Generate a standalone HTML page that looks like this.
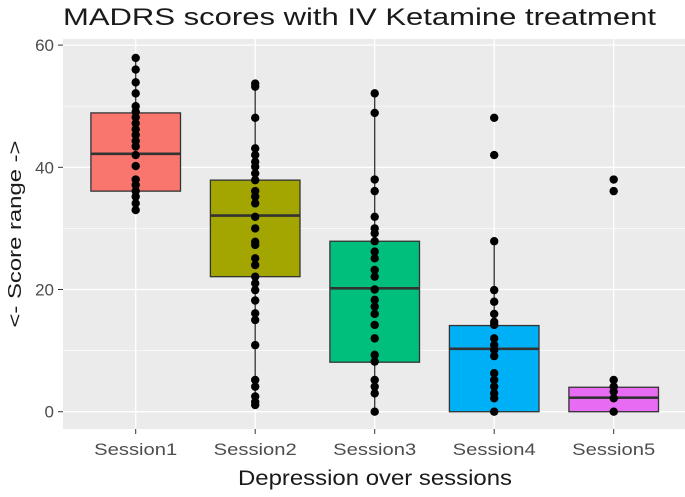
<!DOCTYPE html>
<html><head><meta charset="utf-8"><style>
body{margin:0;background:#fff;}
svg text{font-family:"Liberation Sans",Arial,sans-serif;}
</style></head><body>
<svg id="chart" width="685" height="492" xmlns="http://www.w3.org/2000/svg">
<text x="63" y="25" font-size="24" textLength="593" lengthAdjust="spacingAndGlyphs" fill="#1a1a1a">MADRS scores with IV Ketamine treatment</text>
<rect x="63" y="39" width="622" height="390" fill="#ebebeb"/>
<g id="grid"></g><g id="boxes"></g><g id="pts"></g><g id="axes"></g>
<text x="375" y="485" font-size="21" textLength="274" lengthAdjust="spacingAndGlyphs" text-anchor="middle" fill="#1a1a1a">Depression over sessions</text>
<text transform="translate(21,234) rotate(-90)" font-size="18" textLength="187" lengthAdjust="spacingAndGlyphs" text-anchor="middle" fill="#1a1a1a">&lt;- Score range -&gt;</text>
</svg>
<script>
const categories=["Session1","Session2","Session3","Session4","Session5"];
const colors=["#f8766d","#a3a500","#00bf7d","#00b0f6","#e76bf3"];
const q1=[36.1,22.1,8.1,0,0];
const medians=[42.2,32.1,20.2,10.3,2.3];
const q3=[48.9,37.9,27.9,14.1,4];
const whiskerLow=[33,1.1,0,0,0];
const whiskerHigh=[57.9,53.7,52.1,27.9,4];
const s1=[57.9,56,53.9,52.1,50,49.1,48.2,47.2,46.2,45.3,44.3,43.4,42,40.2,38,37.1,36.1,35.2,34.1,33];
const s2=[53.7,53.2,48.1,43.1,42,40.9,40.1,39,37.9,36.1,35.2,34.1,31.9,30,27.8,27.3,25.1,24,22.1,21,19.9,18.2,16.1,15,10.9,5.2,4.1,2.5,1.6,1.1];
const s3=[52.1,48.9,38,36.1,31.9,30,29.2,27.9,26.2,25.1,23.2,22.1,20,18.3,17.2,16,14.2,12,9.3,8.2,5.2,4.1,3,0];
const s4=[48.1,42,27.9,19.9,18,16,14.7,14.2,12,10.9,10.1,9.1,6.3,5.2,4.1,3,2.2,0];
const s5=[38,36.1,5.2,4.1,3.3,2.2,0];
const points=[s1,s2,s3,s4,s5];
const yTicks=[0,20,40,60];
const NS="http://www.w3.org/2000/svg";
const y=v=>411.7-v*6.11;
const x=i=>135.7+i*119.5;
const halfMinor=[10,30,50];
function mk(tag,attrs,parent){const e=document.createElementNS(NS,tag);for(const k in attrs)e.setAttribute(k,attrs[k]);document.getElementById(parent).appendChild(e);return e;}
halfMinor.forEach(v=>{const l=mk('line',{x1:63,x2:685,y1:y(v),y2:y(v),stroke:'#fff','stroke-width':0.6},'grid');

});
yTicks.forEach(v=>{const l=mk('line',{x1:63,x2:685,y1:y(v),y2:y(v),stroke:'#fff','stroke-width':1.3},'grid');


const t=mk('line',{x1:58,x2:63,y1:y(v),y2:y(v),stroke:'#333','stroke-width':1},'axes');


const tx=mk('text',{x:54,y:y(v)+6,'font-size':17,'text-anchor':'end',fill:'#4d4d4d'},'axes');tx.textContent=v;

});
categories.forEach((c,i)=>{const l=mk('line',{x1:x(i),x2:x(i),y1:39,y2:429,stroke:'#fff','stroke-width':1.3},'grid');


const t=mk('line',{x1:x(i),x2:x(i),y1:429,y2:434,stroke:'#333','stroke-width':1},'axes');


const tx=mk('text',{x:x(i),y:455,'font-size':17,'textLength':83,'lengthAdjust':'spacingAndGlyphs','text-anchor':'middle',fill:'#4d4d4d'},'axes');tx.textContent=c;


const w1=mk('line',{x1:x(i),x2:x(i),y1:y(whiskerHigh[i]),y2:y(q3[i]),stroke:'#333','stroke-width':1.3},'boxes');


const w2=mk('line',{x1:x(i),x2:x(i),y1:y(q1[i]),y2:y(whiskerLow[i]),stroke:'#333','stroke-width':1.3},'boxes');


const b=mk('rect',{x:x(i)-44.8,y:y(q3[i]),width:89.6,height:y(q1[i])-y(q3[i]),fill:colors[i],stroke:'#333','stroke-width':1.3},'boxes');


const m=mk('line',{x1:x(i)-44.8,x2:x(i)+44.8,y1:y(medians[i]),y2:y(medians[i]),stroke:'#333','stroke-width':2.6},'boxes');


points[i].forEach(v=>{const p=mk('circle',{cx:x(i),cy:y(v),r:4.2,fill:'#000'},'pts');

});});
</script>
</body></html>
